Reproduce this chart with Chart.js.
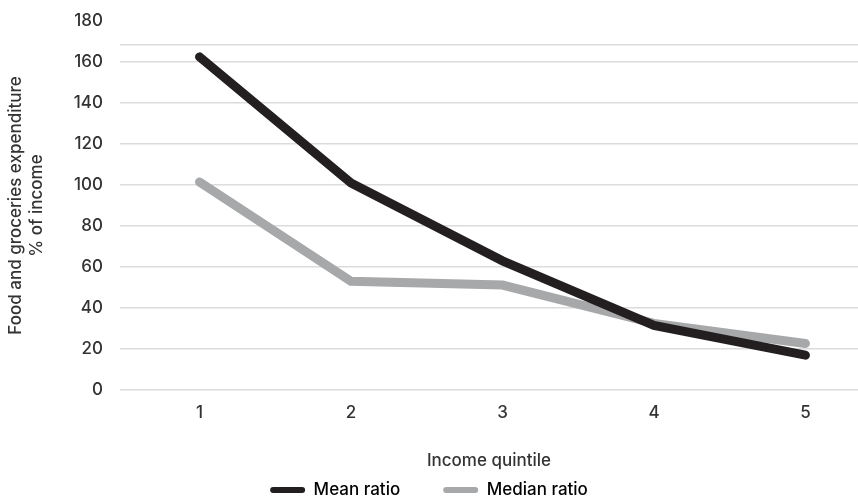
<!DOCTYPE html>
<html>
<head>
<meta charset="utf-8">
<script src="https://cdn.jsdelivr.net/npm/chart.js@4/dist/chart.umd.min.js"></script>
<style>
  html, body { margin: 0; padding: 0; background: #fff; }
  #wrap { width: 858px; height: 501px; }
</style>
</head>
<body>
<div id="wrap"><canvas id="quintile-chart"></canvas></div>
<script>
const quintiles = [1, 2, 3, 4, 5];
const meanRatio = [162.5, 101, 63, 31.5, 17];
const medianRatio = [101.5, 53, 51.2, 32.5, 22.7];
const yTicks = [0, 20, 40, 60, 80, 100, 120, 140, 160, 180];
const extraGridLine = 168.3; // the odd top rule in the original sits below 180

Chart.defaults.font.family = "Inter, 'Liberation Sans', Arial, sans-serif";
Chart.defaults.font.size = 17;
Chart.defaults.font.weight = '500';
Chart.defaults.color = '#333333';

const toPoints = (vals) => vals.map((v, i) => ({ x: quintiles[i], y: v }));

new Chart(document.getElementById('quintile-chart'), {
  type: 'line',
  data: {
    datasets: [
      {
        label: 'Mean ratio',
        data: toPoints(meanRatio),
        borderColor: '#231f20',
        backgroundColor: '#231f20',
        borderWidth: 9,
        borderCapStyle: 'round',
        pointRadius: 0,
        tension: 0,
      },
      {
        label: 'Median ratio',
        data: toPoints(medianRatio),
        borderColor: '#a7a8aa',
        backgroundColor: '#a7a8aa',
        borderWidth: 9,
        borderCapStyle: 'round',
        pointRadius: 0,
        tension: 0,
      },
    ],
  },
  options: {
    responsive: true,
    maintainAspectRatio: false,
    animation: false,
    layout: { padding: { left: 0, right: 0, top: 0, bottom: -7.5 } },
    plugins: {
      tooltip: { enabled: false },
      legend: {
        position: 'bottom',
        labels: {
          boxWidth: 35,
          boxHeight: 6,
          padding: 43,
          generateLabels: (chart) =>
            chart.data.datasets.map((ds, i) => ({
              text: ds.label,
              fillStyle: ds.borderColor,
              strokeStyle: ds.borderColor,
              lineWidth: 0,
              borderRadius: 3,
              datasetIndex: i,
            })),
        },
      },
    },
    scales: {
      x: {
        type: 'linear',
        min: 0.475,
        max: 5.347,
        afterBuildTicks: (scale) => {
          scale.ticks = quintiles.map((v) => ({ value: v }));
        },
        grid: { display: false, drawTicks: false },
        border: { display: false },
        ticks: { padding: 13 },
        title: {
          display: true,
          text: 'Income quintile',
          padding: { top: 14.4, bottom: -32.7 },
        },
      },
      y: {
        min: 0,
        max: 180,
        afterBuildTicks: (scale) => {
          scale.ticks = yTicks.concat([extraGridLine])
            .sort((a, b) => a - b)
            .map((v) => ({ value: v }));
        },
        afterFit: (scale) => {
          scale.width = 120;
          scale.paddingTop = 21; // keep the 180 label near the top edge
        },
        grid: {
          color: (ctx) => (ctx.tick && ctx.tick.value === 180 ? 'rgba(0,0,0,0)' : '#dcdcdc'),
          lineWidth: 1.5,
          drawTicks: false,
        },
        border: { display: false },
        ticks: {
          padding: 17,
          callback: (v) => (yTicks.includes(v) ? String(v) : ''),
        },
        title: {
          display: true,
          text: ['Food and groceries expenditure', '% of income'],
          lineHeight: 1.3,
          padding: { top: 6, bottom: 0 },
        },
      },
    },
  },
});
</script>
</body>
</html>
